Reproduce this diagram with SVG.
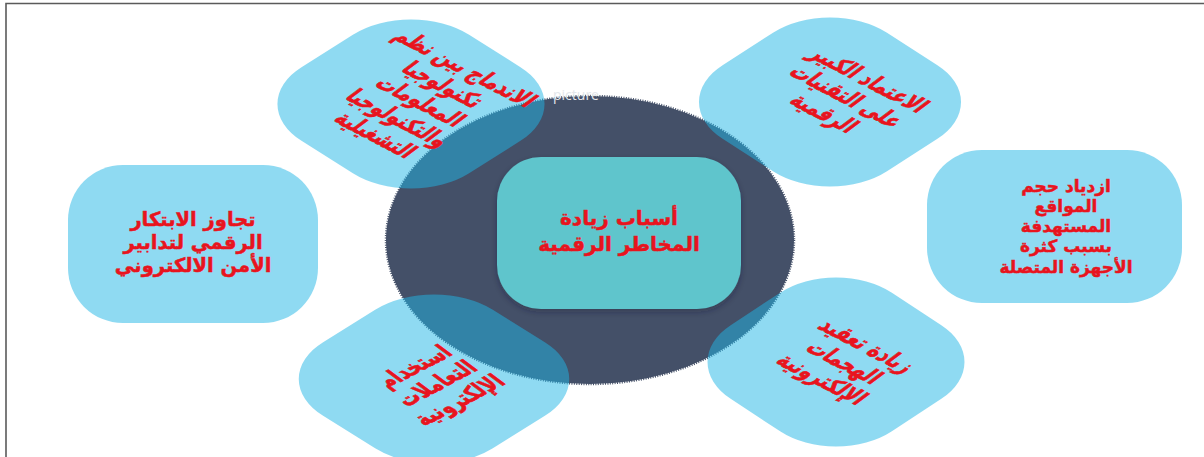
<svg xmlns="http://www.w3.org/2000/svg" width="1204" height="457" viewBox="0 0 1204 457">
  <defs>
    <style>
      .petal { fill: rgb(32,182,230); fill-opacity: 0.5; }
      .lbl { font-family: "DejaVu Sans", sans-serif; font-weight: bold; fill: #E8141E; stroke: #E8141E; stroke-width: 0.5px; text-anchor: middle; }
      .lbl-lg { font-size: 19.5px; }
      .lbl-hub { font-size: 20px; }
      .lbl-md { font-size: 17px; }
      .lbl-tilt { font-size: 16.5px; }
      .hub { fill: #5EC5CC; }
    </style>
    <!-- rounded square used for the four tilted cause nodes -->
    <rect id="tile" x="-75" y="-75" width="150" height="150" rx="52"/>
    <filter id="soft" x="-20%" y="-20%" width="140%" height="150%">
      <feDropShadow dx="0" dy="3" stdDeviation="3" flood-color="#1b2433" flood-opacity="0.35"/>
    </filter>
  </defs>

  <!-- page frame -->
  <rect width="1204" height="457" fill="#ffffff"/>
  <path d="M6 457 V3.5 H1204" fill="none" stroke="#5a5a5a" stroke-width="1.6"/>

  <!-- dark backdrop disc -->
  <g id="backdrop">
    <ellipse cx="590" cy="240" rx="204" ry="144" fill="#445068" stroke="#445068" stroke-width="2.5" stroke-dasharray="1 1.4"/>
  </g>

  <!-- central node -->
  <g id="node-center">
    <rect class="hub" x="497" y="157" width="244" height="152" rx="44" filter="url(#soft)"/>
    <text class="lbl lbl-hub"><tspan x="619" y="225">أسباب زيادة</tspan><tspan x="619" y="251">المخاطر الرقمية</tspan></text>
  </g>

  <!-- surrounding cause nodes -->
  <g id="node-integration">
    <use href="#tile" class="petal" transform="translate(411,104) scale(1.58,1) rotate(45)"/>
    <g transform="translate(421,101) scale(1.6,1) rotate(40) scale(0.8,1.15)">
      <text class="lbl lbl-tilt"><tspan x="0" y="-32">الاندماج بين نظم</tspan><tspan x="0" y="-13">تكنولوجيا</tspan><tspan x="0" y="6">المعلومات</tspan><tspan x="0" y="25">والتكنولوجيا</tspan><tspan x="0" y="44">التشغيلية</tspan></text>
    </g>
  </g>

  <g id="node-reliance">
    <use href="#tile" class="petal" transform="translate(830,102) scale(1.55,1) rotate(45)"/>
    <g transform="translate(847,96) scale(1.6,1) rotate(40) scale(0.8,1.15)">
      <text class="lbl lbl-tilt"><tspan x="0" y="-13">الاعتماد الكبير</tspan><tspan x="0" y="6">على التقنيات</tspan><tspan x="0" y="25">الرقمية</tspan></text>
    </g>
  </g>

  <g id="node-targets">
    <rect class="petal" x="927" y="150" width="255" height="153" rx="55"/>
    <text class="lbl lbl-md"><tspan x="1066" y="192">ازدياد حجم</tspan><tspan x="1066" y="212">المواقع</tspan><tspan x="1066" y="232">المستهدفة</tspan><tspan x="1066" y="252">بسبب كثرة</tspan><tspan x="1066" y="273">الأجهزة المتصلة</tspan></text>
  </g>

  <g id="node-attacks">
    <use href="#tile" class="petal" transform="translate(836,362) scale(1.52,1) rotate(45)"/>
    <g transform="translate(845,362) scale(1.6,1) rotate(40) scale(0.8,1.15)">
      <text class="lbl lbl-tilt"><tspan x="0" y="-13">زيادة تعقيد</tspan><tspan x="0" y="6">الهجمات</tspan><tspan x="0" y="25">الإلكترونية</tspan></text>
    </g>
  </g>

  <g id="node-transactions">
    <use href="#tile" class="petal" transform="translate(434,379) scale(1.6,1) rotate(-45)"/>
    <g transform="translate(436,383) scale(1.6,1) rotate(-40) scale(0.8,1.15)">
      <text class="lbl lbl-tilt"><tspan x="0" y="-13">استخدام</tspan><tspan x="0" y="6">التعاملات</tspan><tspan x="0" y="25">الإلكترونية</tspan></text>
    </g>
  </g>

  <g id="node-innovation">
    <rect class="petal" x="68" y="165" width="250" height="158" rx="55"/>
    <text class="lbl lbl-lg"><tspan x="193" y="226">تجاوز الابتكار</tspan><tspan x="193" y="249">الرقمي لتدابير</tspan><tspan x="193" y="272">الأمن الالكتروني</tspan></text>
  </g>

  <g id="connectors"/>

  <!-- placeholder caption -->
  <text x="553" y="100" font-family="Open Sans, sans-serif" font-size="14" fill="#E4E7EB">picture</text>
</svg>
